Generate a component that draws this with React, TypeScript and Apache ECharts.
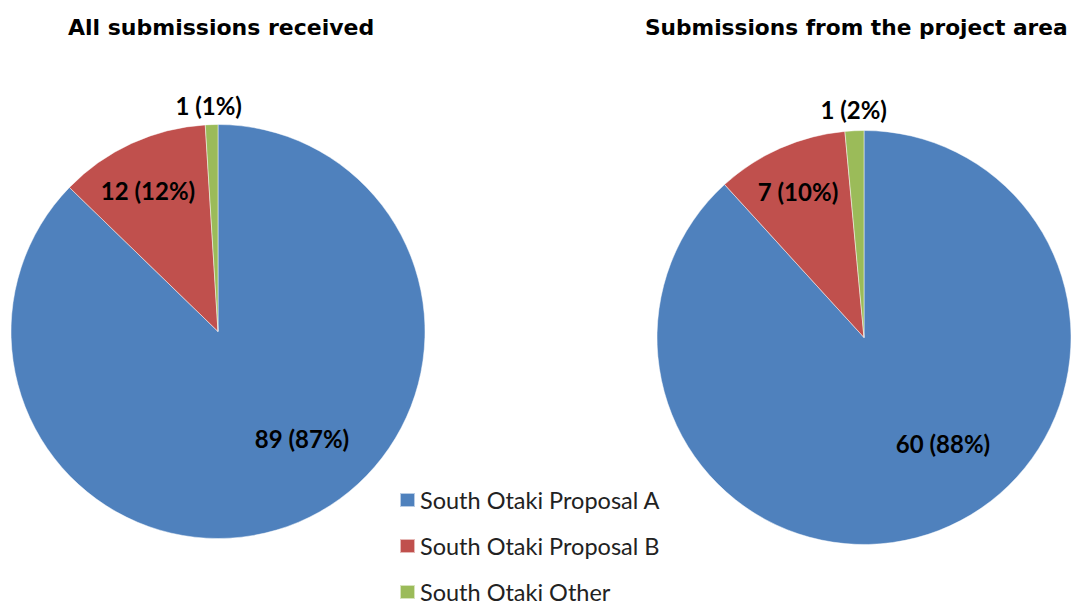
import React, { useEffect, useRef } from "react";
import * as echarts from "echarts";

const categories = ["South Otaki Proposal A", "South Otaki Proposal B", "South Otaki Other"];
const allSubmissions = [89, 12, 1];
const projectAreaSubmissions = [60, 7, 1];
const titles = ["All submissions received", "Submissions from the project area"];
const colors = ["#4F81BD", "#C0504D", "#9BBB59"];

// layout (pixels)
const PIE_CENTERS: [number, number][] = [
  [218, 331.5],
  [864, 337.5],
];
const PIE_RADIUS = 207;
const LABEL_OFFSETS: [number, number][][] = [
  [
    [84, 106.5],
    [-70, -141.5],
    [-9.3, -226.5],
  ],
  [
    [79, 105.5],
    [-66, -146.5],
    [-10.3, -228.5],
  ],
];
const TITLE_LEFT = [68, 645];
const TITLE_SIZE = [22, 21.7];
const LEGEND_TOPS = [488, 534, 580];

export default function App() {
  const ref = useRef<HTMLDivElement>(null);
  useEffect(() => {
    if (!ref.current) return;
    const chart = echarts.init(ref.current, undefined, { renderer: "svg" });
    const seriesData = [allSubmissions, projectAreaSubmissions];
    chart.setOption({
      animation: false,
      color: colors,
      title: titles.map((t, i) => ({
        text: t,
        left: TITLE_LEFT[i],
        top: 13,
        padding: 0,
        textStyle: {
          fontFamily: "DejaVu Sans",
          fontWeight: "bold",
          fontSize: TITLE_SIZE[i],
          lineHeight: 28,
          color: "#000",
        },
      })),
      legend: categories.map((c, i) => ({
        orient: "vertical",
        left: 399,
        top: LEGEND_TOPS[i],
        padding: 0,
        itemWidth: 15,
        itemHeight: 14,
        icon: "rect",
        data: [c],
        textStyle: {
          fontFamily: "Lato",
          fontSize: 23.5,
          lineHeight: 14,
          color: "#222",
        },
      })),
      series: seriesData.map((vals, si) => ({
        type: "pie",
        center: PIE_CENTERS[si],
        radius: PIE_RADIUS,
        startAngle: 90,
        clockwise: true,
        percentPrecision: 0,
        avoidLabelOverlap: false,
        itemStyle: { borderColor: "rgba(255,255,255,0.6)", borderWidth: 0.8 },
        label: {
          show: true,
          position: "inside",
          formatter: "{c} ({d}%)",
          fontFamily: "Lato",
          fontWeight: "bold",
          fontSize: 24,
          color: "#000",
        },
        labelLine: { show: false },
        labelLayout: (params: any) => {
          const off = LABEL_OFFSETS[si][params.dataIndex];
          return {
            x: PIE_CENTERS[si][0] + off[0],
            y: PIE_CENTERS[si][1] + off[1],
            align: "center",
            verticalAlign: "middle",
          };
        },
        emphasis: { disabled: true },
        data: categories.map((c, i) => ({ name: c, value: vals[i] })),
      })),
    });
    return () => chart.dispose();
  }, []);
  return (
    <div
      ref={ref}
      style={{ position: "fixed", left: 0, top: 0, width: 1071, height: 606, background: "#fff" }}
    />
  );
}
